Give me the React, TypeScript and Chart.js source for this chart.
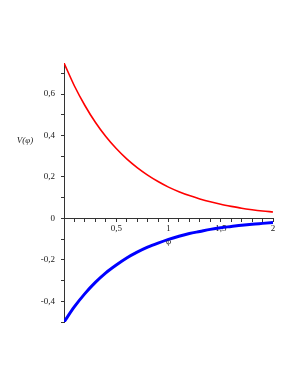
import React, { useEffect, useRef } from "react";
import { Chart, registerables } from "chart.js";

Chart.register(...registerables);

const phi = [0, 0.1, 0.2, 0.3, 0.4, 0.5, 0.6, 0.7, 0.8, 0.9, 1.0, 1.1, 1.2, 1.3, 1.4, 1.5, 1.6, 1.7, 1.8, 1.9, 2.0];
const redV = [0.75, 0.639, 0.545, 0.464, 0.395, 0.337, 0.287, 0.245, 0.209, 0.178, 0.151, 0.129, 0.11, 0.094, 0.08, 0.068, 0.058, 0.049, 0.042, 0.036, 0.031];
const blueV = [-0.5, -0.426, -0.363, -0.309, -0.263, -0.225, -0.191, -0.163, -0.139, -0.119, -0.101, -0.086, -0.073, -0.063, -0.053, -0.045, -0.039, -0.033, -0.028, -0.024, -0.02];
const yLabelValues = [-0.4, -0.2, 0, 0.2, 0.4, 0.6];
const xLabelValues = [0.5, 1, 1.5, 2];
const xTitle = "φ";
const yTitle = "V(φ)";

const fmt = (v: number) => {
  const r = Math.round(v * 10) / 10;
  return String(r).replace(".", ",");
};
const has = (arr: number[], v: number) => arr.some((a) => Math.abs(a - v) < 1e-6);

const titlesPlugin = {
  id: "titles",
  afterDraw(chart: any) {
    const { ctx, chartArea, scales } = chart;
    ctx.save();
    ctx.fillStyle = "#1a1a1a";
    ctx.textAlign = "center";
    ctx.textBaseline = "middle";
    ctx.font = 'italic 9px "Liberation Serif"';
    ctx.fillText(yTitle, chartArea.left - 39, scales.y.getPixelForValue(0.375));
    ctx.font = '9px "Liberation Serif"';
    ctx.fillText(xTitle, scales.x.getPixelForValue(1), scales.y.getPixelForValue(0) + 23);
    ctx.restore();
  },
};

export default function App() {
  const ref = useRef<HTMLCanvasElement>(null);
  useEffect(() => {
    if (!ref.current) return;
    const chart = new Chart(ref.current, {
      type: "line",
      data: {
        datasets: [
          {
            data: phi.map((x, i) => ({ x, y: redV[i] })),
            borderColor: "#ff0000",
            borderWidth: 1.6,
            pointRadius: 0,
            cubicInterpolationMode: "monotone",
          },
          {
            data: phi.map((x, i) => ({ x, y: blueV[i] })),
            borderColor: "#0000ff",
            borderWidth: 3,
            pointRadius: 0,
            cubicInterpolationMode: "monotone",
          },
        ],
      },
      options: {
        animation: false,
        responsive: true,
        maintainAspectRatio: false,
        layout: { padding: { left: 14, right: 25, top: 63, bottom: 63 } },
        plugins: { legend: { display: false }, tooltip: { enabled: false } },
        scales: {
          x: {
            type: "linear",
            position: { y: 0 } as any,
            min: 0,
            max: 2,
            grid: { drawOnChartArea: false, tickLength: 3, tickColor: "#333", color: "#333" },
            border: { color: "#333", width: 1 },
            ticks: {
              stepSize: 0.1,
              autoSkip: false,
              maxRotation: 0,
              padding: 2,
              color: "#1a1a1a",
              font: { family: "Liberation Serif", size: 9 },
              callback: (v: any) => (has(xLabelValues, Number(v)) ? fmt(Number(v)) : ""),
            },
          },
          y: {
            type: "linear",
            position: "left",
            min: -0.5,
            max: 0.75,
            afterFit: (s: any) => {
              s.width = 50;
            },
            grid: { drawOnChartArea: false, tickLength: 3, tickColor: "#333", color: "#333" },
            border: { color: "#333", width: 1 },
            ticks: {
              stepSize: 0.1,
              autoSkip: false,
              includeBounds: false,
              padding: 6,
              color: "#1a1a1a",
              font: { family: "Liberation Serif", size: 9 },
              callback: (v: any) => (has(yLabelValues, Number(v)) ? fmt(Number(v)) : ""),
            },
          },
        },
      },
      plugins: [titlesPlugin],
    });
    return () => chart.destroy();
  }, []);
  return (
    <div style={{ position: "absolute", left: 0, top: 0, width: 298, height: 385, background: "#fff" }}>
      <canvas ref={ref} />
    </div>
  );
}
